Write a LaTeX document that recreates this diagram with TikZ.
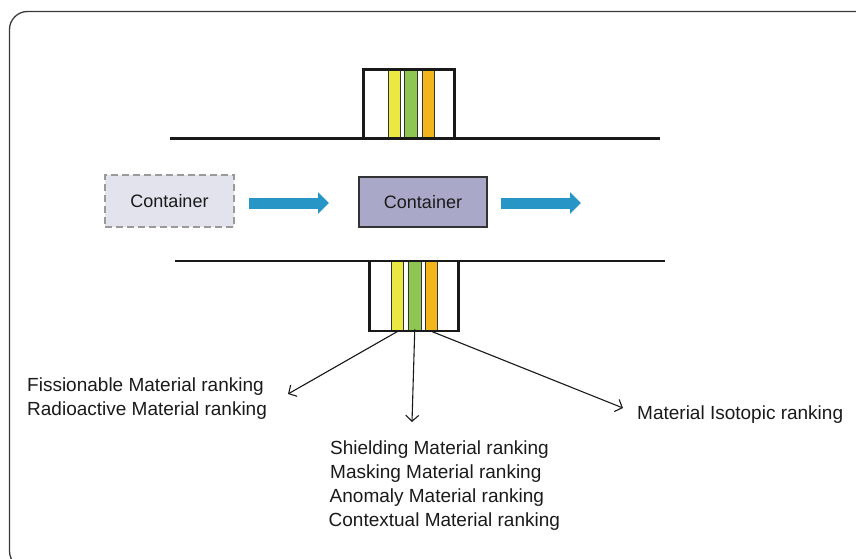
\documentclass[tikz,border=0pt]{standalone}
\usepackage{fontspec}
\setmainfont{Liberation Sans}
\usetikzlibrary{arrows.meta}
\definecolor{framegray}{HTML}{3A3A3A}
\definecolor{txt}{HTML}{1A1A1A}
\definecolor{syellow}{HTML}{ECE843}
\definecolor{sgreen}{HTML}{8EC553}
\definecolor{sorange}{HTML}{F2B51C}
\definecolor{flowblue}{HTML}{2795C6}
\definecolor{boxfill}{HTML}{AAA8C8}
\definecolor{ghostfill}{HTML}{E3E3EE}
\definecolor{ghostline}{HTML}{9A9A9A}
\tikzset{
  rail/.style={line width=2.6pt, color=black!90},
  detector/.style={line width=2.6pt, color=black!90},
  stripe/.style={draw=black!80, line width=0.9pt, inner sep=0pt, minimum width=12pt},
  ghostbox/.style={draw=ghostline, dash pattern=on 7pt off 4pt, line width=1.5pt, fill=ghostfill,
    minimum width=129pt, minimum height=52pt, inner sep=0pt, font=\fontsize{18}{22}\selectfont, text=txt},
  contbox/.style={draw=black!80, line width=1.2pt, fill=boxfill,
    minimum width=128pt, minimum height=50pt, inner sep=0pt, font=\fontsize{18}{22}\selectfont, text=txt},
  flowarrow/.style={line width=11pt, color=flowblue, -{Triangle[length=11pt,width=21pt]}},
  rankarrow/.style={line width=1.1pt, color=black!90, -{Straight Barb[length=6pt,width=13pt]}},
  lbl/.style={anchor=base west, inner sep=0pt, text=txt, font=\fontsize{19}{24}\selectfont}
}
\begin{document}
\begin{tikzpicture}[x=1pt,y=-1pt]
\useasboundingbox (0,0) rectangle (856,559);
\clip (0,0) rectangle (856,559);
% frame
\draw[framegray, line width=1.3pt, rounded corners=18pt] (9.5,11.5) rectangle (905,569);

% top detector
\node[stripe, fill=syellow, minimum width=12pt, minimum height=68pt] (ty) at (394,104) {};
\node[stripe, fill=sgreen, minimum width=13pt, minimum height=68pt] (tg) at (410.5,104) {};
\node[stripe, fill=sorange, minimum width=12pt, minimum height=68pt] (to) at (428,104) {};
\draw[detector] (363.5,138.5) |- (454.5,69.5) -- (454.5,138.5);
\draw[rail] (170,138.5) -- (660,138.5);

% bottom detector
\node[stripe, fill=syellow, minimum width=11.5pt, minimum height=70pt] (by) at (397.5,296) {};
\node[stripe, fill=sgreen, minimum width=12.7pt, minimum height=70pt] (bg) at (414.7,296) {};
\node[stripe, fill=sorange, minimum width=12pt, minimum height=70pt] (bo) at (431.7,296) {};
\draw[detector] (369.5,261) |- (458.5,331) -- (458.5,261);
\draw[rail] (175,261) -- (665,261);

% containers
\node[ghostbox] (c1) at (169.5,201) {Container};
\node[contbox] (c2) at (423,202) {Container};
\coordinate (a1s) at (249,203);
\coordinate (a1e) at (329,203);
\coordinate (a2s) at (501,203);
\coordinate (a2e) at (581,203);
\draw[flowarrow] (a1s) -- (a1e);
\draw[flowarrow] (a2s) -- (a2e);

% ranking arrows
\coordinate (eL) at (288,394);
\coordinate (eM) at (412,422);
\coordinate (eR) at (623,408);
\draw[rankarrow, shorten <=-2pt] (by.south) -- (eL);
\draw[rankarrow, shorten <=-2pt] (bg.south) -- (eM);
\draw[rankarrow, shorten <=-2pt] (bo.south) -- (eR);

% labels
\node[lbl] (f1) at (27,391.7) {Fissionable Material ranking};
\node[lbl] (f2) at (27,415.7) {Radioactive Material ranking};
\node[lbl] (r1) at (637,419.3) {Material Isotopic ranking};
\node[lbl] (s1) at (330,454.3) {Shielding Material ranking};
\node[lbl] (s2) at (330,478.4) {Masking Material ranking};
\node[lbl] (s3) at (329.5,502.5) {Anomaly Material ranking};
\node[lbl] (s4) at (328.5,526.6) {Contextual Material ranking};
\end{tikzpicture}
\end{document}
